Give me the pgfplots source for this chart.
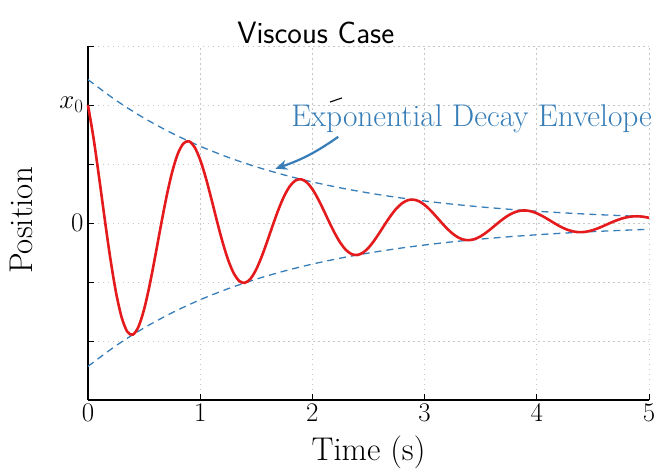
\RequirePackage{fix-cm}
\documentclass[border=0pt]{standalone}
\usepackage{pgfplots}
\pgfplotsset{compat=1.18}
\usepackage{pgfplotstable}
\usetikzlibrary{arrows.meta}
\definecolor{cred}{HTML}{E41A1C}
\definecolor{cblue}{HTML}{377EB8}

\pgfplotstableread{
t x
0.00 2.0000
0.05 1.4305
0.10 0.7583
0.15 0.0540
0.20 -0.6127
0.25 -1.1802
0.30 -1.6003
0.35 -1.8416
0.40 -1.8919
0.45 -1.7577
0.50 -1.4633
0.55 -1.0466
0.60 -0.5548
0.65 -0.0395
0.70 0.4482
0.75 0.8634
0.80 1.1708
0.85 1.3474
0.90 1.3841
0.95 1.2859
1.00 1.0706
1.05 0.7657
1.10 0.4059
1.15 0.0289
1.20 -0.3280
1.25 -0.6317
1.30 -0.8567
1.35 -0.9858
1.40 -1.0128
1.45 -0.9409
1.50 -0.7833
1.55 -0.5603
1.60 -0.2970
1.65 -0.0211
1.70 0.2399
1.75 0.4622
1.80 0.6267
1.85 0.7213
1.90 0.7409
1.95 0.6884
2.00 0.5730
2.05 0.4099
2.10 0.2173
2.15 0.0155
2.20 -0.1756
2.25 -0.3382
2.30 -0.4586
2.35 -0.5277
2.40 -0.5421
2.45 -0.5037
2.50 -0.4193
2.55 -0.2999
2.60 -0.1590
2.65 -0.0113
2.70 0.1284
2.75 0.2474
2.80 0.3355
2.85 0.3861
2.90 0.3966
2.95 0.3685
3.00 0.3068
3.05 0.2195
3.10 0.1163
3.15 0.0083
3.20 -0.0940
3.25 -0.1810
3.30 -0.2455
3.35 -0.2825
3.40 -0.2902
3.45 -0.2697
3.50 -0.2245
3.55 -0.1605
3.60 -0.0851
3.65 -0.0061
3.70 0.0688
3.75 0.1325
3.80 0.1796
3.85 0.2067
3.90 0.2123
3.95 0.1972
4.00 0.1642
4.05 0.1175
4.10 0.0623
4.15 0.0044
4.20 -0.0503
4.25 -0.0969
4.30 -0.1314
4.35 -0.1512
4.40 -0.1554
4.45 -0.1443
4.50 -0.1202
4.55 -0.0859
4.60 -0.0455
4.65 -0.0032
4.70 0.0368
4.75 0.0709
4.80 0.0961
4.85 0.1106
4.90 0.1137
4.95 0.1056
5.00 0.0879
}\osc

\pgfplotstableread{
t e
0.00 2.4300
0.25 2.0785
0.50 1.7778
0.75 1.5206
1.00 1.3007
1.25 1.1126
1.50 0.9516
1.75 0.8140
2.00 0.6962
2.25 0.5956
2.50 0.5094
2.75 0.4357
3.00 0.3727
3.25 0.3188
3.50 0.2727
3.75 0.2333
4.00 0.1995
4.25 0.1707
4.50 0.1460
4.75 0.1249
5.00 0.1068
}\env

\begin{document}
\begin{tikzpicture}
\path[use as bounding box] (-88bp,-72bp) rectangle (567bp,400bp);
\begin{axis}[
  scale only axis, width=561bp, height=354bp,
  xmin=0, xmax=5, ymin=-3, ymax=3,
  axis lines*=left,
  axis line style={line width=1.3bp, black},
  xtick={0,1,2,3,4,5}, ytick={-2,-1,0,1,2,3},
  yticklabels={,,$0$,,$x_0$,},
  tick align=inside, major tick length=6bp,
  tick style={black, line width=0.8bp},
  grid=major, grid style={dash pattern=on 1.5bp off 3.5bp, black!22, line width=0.8bp},
  tick label style={font=\fontsize{27}{32}\selectfont},
  xticklabel style={yshift=-1bp},
  yticklabel style={xshift=-1bp},
  xlabel={Time (s)}, ylabel={Position},
  label style={font=\fontsize{33}{38}\selectfont},
  xlabel style={at={(axis description cs:0.5,-0.1695)}, anchor=base},
  ylabel style={at={(axis description cs:-0.0998,0.507)}, anchor=base},
  clip=false,
]
\addplot[cblue, line width=1.3bp, dash pattern=on 7bp off 5bp, smooth] table[x=t,y=e]{\env};
\addplot[cblue, line width=1.3bp, dash pattern=on 7bp off 5bp, smooth] table[x=t,y expr=-\thisrow{e}]{\env};
\addplot[cred, line width=2.6bp, smooth] table[x=t,y=x]{\osc};
\node[anchor=base west, text=cblue, font=\fontsize{31.5}{36}\selectfont, inner sep=0pt] at (axis cs:1.81,1.64) {Exponential Decay Envelope};
\draw[cblue, line width=2.2bp, -{Stealth[length=12bp,width=10bp]}] (axis cs:2.23,1.46) to[bend left=8] (axis cs:1.67,0.92);
\draw[black, line width=1.1bp] (axis cs:2.157,2.05) -- (axis cs:2.264,2.12);
\node[anchor=base, font=\fontsize{31}{36}\selectfont\sffamily, inner sep=0pt] at (axis description cs:0.406,1.006) {Viscous Case};
\end{axis}
\end{tikzpicture}
\end{document}
